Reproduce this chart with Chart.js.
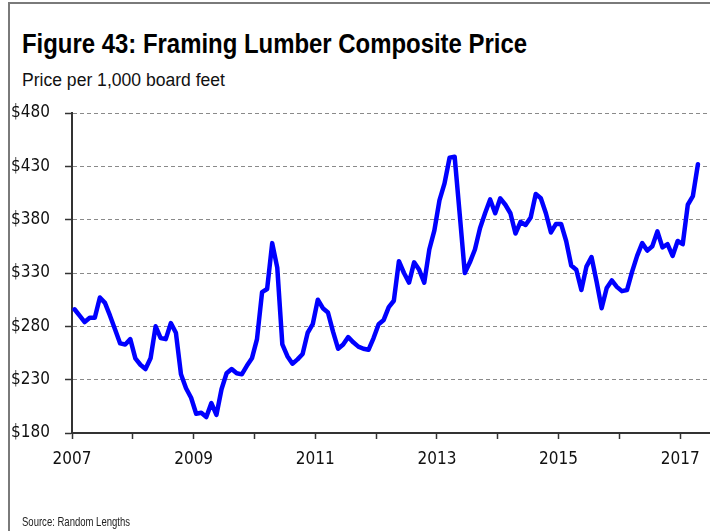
<!DOCTYPE html>
<html lang="en">
<head>
    <meta charset="UTF-8">
    <title>Figure 43: Framing Lumber Composite Price</title>
    <style>
        body {
            margin: 0;
            background: #ffffff;
            font-family: 'Liberation Sans', Arial, sans-serif;
        }

        #wrap {
            position: relative;
            width: 710px;
            height: 531px;
            overflow: hidden;
        }

        .frame {
            position: absolute;
            left: 8px;
            top: 2px;
            width: 710px;
            height: 540px;
            border-top: 2px solid #7a7a7a;
            border-left: 2px solid #7a7a7a;
        }

        .fit {
            position: absolute;
            white-space: nowrap;
            transform-origin: 0 0;
        }

        .title {
            left: 22px;
            top: 28px;
            font-size: 28px;
            font-weight: bold;
            color: #000;
        }

        .subtitle {
            left: 22px;
            top: 70px;
            font-size: 18px;
            color: #111;
        }

        .source {
            left: 22px;
            top: 514px;
            font-size: 13px;
            color: #222;
        }

        canvas {
            position: absolute;
            left: 0;
            top: 0;
        }
    </style>
    <script src="https://cdn.jsdelivr.net/npm/chart.js"></script>
</head>
<body>
    <div id="wrap">
        <div class="frame"></div>
        <div class="fit title" data-w="505">Figure 43: Framing Lumber Composite Price</div>
        <div class="fit subtitle" data-w="203">Price per 1,000 board feet</div>
        <canvas id="lumberChart" width="710" height="531"></canvas>
        <div class="fit source" data-w="108">Source: Random Lengths</div>
    </div>
    <script>
        // monthly composite price, $ per 1,000 board feet
        const startYear = 2007;
        const prices2007 = [296, 290, 284, 288, 288, 307, 302, 290, 277, 264, 263, 268];
        const prices2008 = [250, 244, 240, 250, 280, 269, 268, 283, 274, 235, 222, 213];
        const prices2009 = [198, 199, 195, 208, 197, 221, 236, 240, 236, 235, 243, 250];
        const prices2010 = [268, 312, 315, 358, 335, 263, 252, 245, 249, 254, 274, 282];
        const prices2011 = [305, 297, 293, 275, 259, 263, 270, 265, 261, 259, 258, 269];
        const prices2012 = [282, 286, 298, 304, 341, 330, 321, 340, 333, 321, 352, 370];
        const prices2013 = [398, 414, 438, 439, 385, 330, 340, 352, 372, 386, 399, 386];
        const prices2014 = [400, 394, 386, 367, 378, 375, 382, 404, 400, 386, 368, 376];
        const prices2015 = [376, 360, 337, 333, 314, 336, 345, 322, 297, 316, 323, 317];
        const prices2016 = [313, 314, 331, 346, 358, 351, 355, 369, 354, 357, 346, 360];
        const prices2017 = [357, 394, 402, 432];

        const yTicks = [180, 230, 280, 330, 380, 430, 480];
        const labelYears = [2007, 2009, 2011, 2013, 2015, 2017];

        const allYears = [prices2007, prices2008, prices2009, prices2010, prices2011, prices2012,
            prices2013, prices2014, prices2015, prices2016, prices2017];

        const points = [];
        allYears.forEach((vals, yi) => {
            vals.forEach((v, m) => {
                points.push({ x: startYear + yi + (m + 0.5) / 12, y: v });
            });
        });

        // squeeze the html texts to the narrow width of the original typeface
        document.querySelectorAll('.fit').forEach(el => {
            const w = el.getBoundingClientRect().width;
            el.style.transform = 'scaleX(' + (el.dataset.w / w) + ')';
        });

        const fontFamily = "'DejaVu Sans Condensed', 'Liberation Sans', sans-serif";

        new Chart(document.getElementById('lumberChart'), {
            type: 'line',
            data: {
                datasets: [{
                    data: points,
                    borderColor: '#0000ff',
                    borderWidth: 4.5,
                    pointRadius: 0,
                    tension: 0,
                    borderJoinStyle: 'round',
                    borderCapStyle: 'round'
                }]
            },
            options: {
                responsive: false,
                animation: false,
                devicePixelRatio: 1,
                layout: {
                    padding: { left: 0, right: 0, top: 113, bottom: 48 }
                },
                plugins: {
                    legend: { display: false },
                    tooltip: { enabled: false }
                },
                scales: {
                    x: {
                        type: 'linear',
                        min: 2007,
                        max: 2017.49,
                        afterFit: (scale) => { scale.height = 50; },
                        border: { color: '#333', width: 2 },
                        grid: {
                            drawOnChartArea: false,
                            tickLength: 6,
                            tickColor: '#333',
                            tickWidth: 1.5
                        },
                        ticks: {
                            stepSize: 1,
                            includeBounds: false,
                            autoSkip: false,
                            maxRotation: 0,
                            padding: 10,
                            color: '#111',
                            font: { family: fontFamily, size: 17 },
                            callback: (v) => labelYears.includes(v) ? String(v) : ''
                        }
                    },
                    y: {
                        min: yTicks[0],
                        max: yTicks[yTicks.length - 1],
                        afterFit: (scale) => { scale.width = 72; },
                        border: {
                            color: '#333',
                            width: 2,
                            dash: [4, 3]
                        },
                        grid: {
                            color: (ctx) => ctx.tick && ctx.tick.value === yTicks[0] ? 'rgba(0,0,0,0)' : '#8a8a8a',
                            lineWidth: 1,
                            tickLength: 7,
                            tickColor: '#333',
                            tickWidth: 1.5,
                            tickBorderDash: []
                        },
                        ticks: {
                            stepSize: 50,
                            padding: 15,
                            color: '#111',
                            font: { family: fontFamily, size: 17 },
                            callback: (v) => '$' + v
                        }
                    }
                }
            }
        });
    </script>
</body>
</html>
